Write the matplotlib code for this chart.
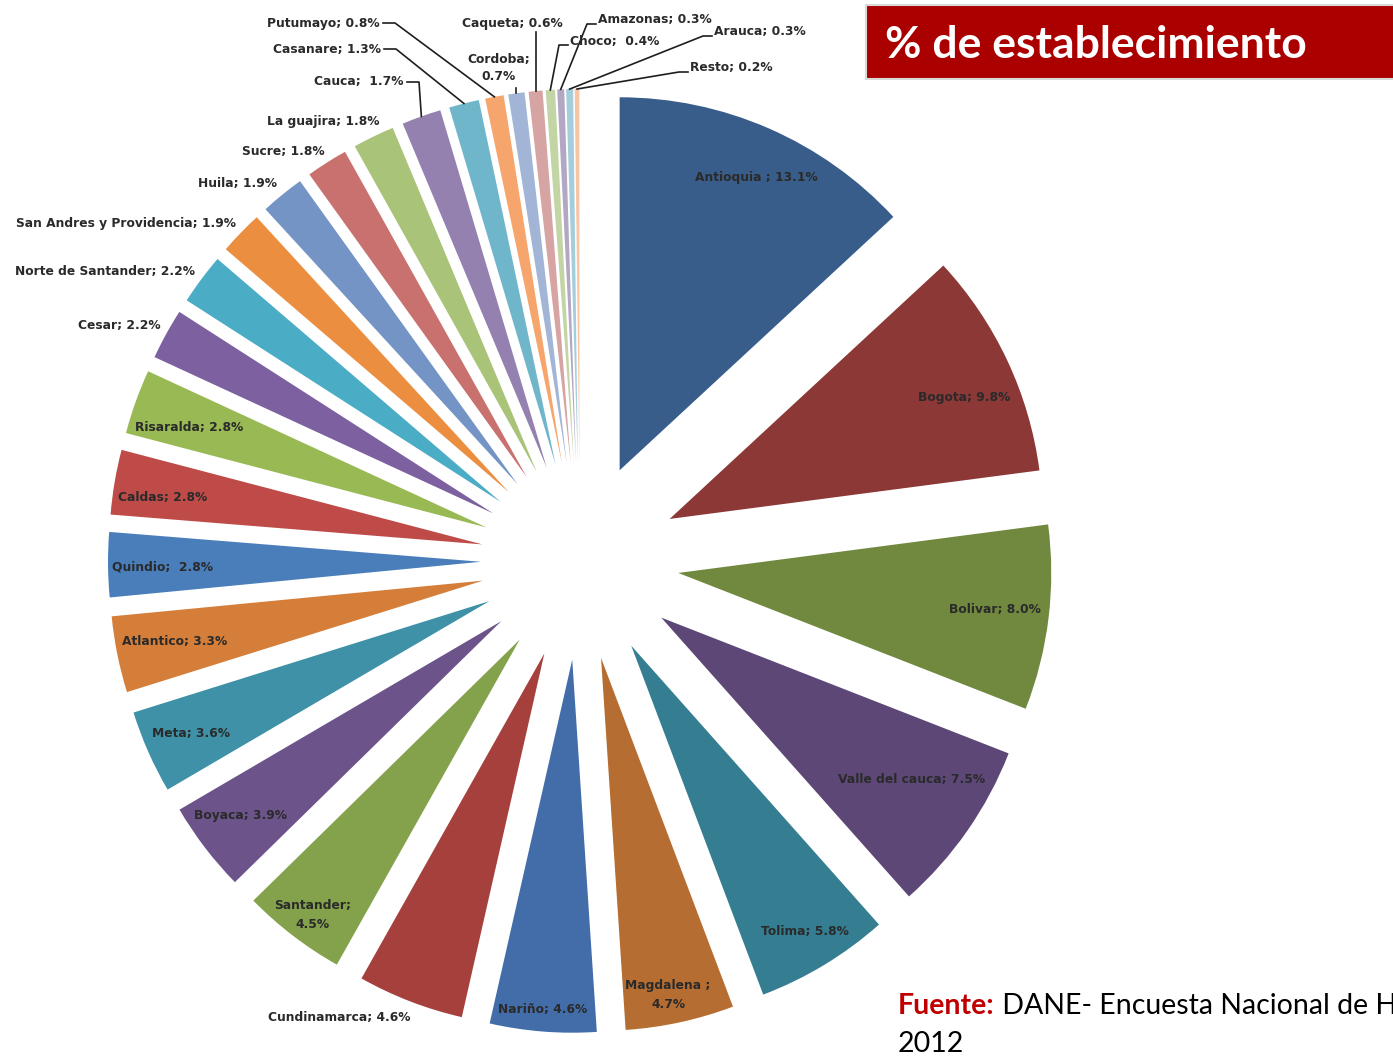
import matplotlib
matplotlib.use('Agg')
import matplotlib.pyplot as plt
import numpy as np
from matplotlib.patches import Rectangle

W, H = 1393, 1056

departamentos = ['Antioquia', 'Bogota', 'Bolivar', 'Valle del cauca', 'Tolima',
                 'Magdalena', 'Nariño', 'Cundinamarca', 'Santander', 'Boyaca',
                 'Meta', 'Atlantico', 'Quindio', 'Caldas', 'Risaralda', 'Cesar',
                 'Norte de Santander', 'San Andres y Providencia', 'Huila', 'Sucre',
                 'La guajira', 'Cauca', 'Casanare', 'Putumayo', 'Cordoba', 'Caqueta',
                 'Choco', 'Amazonas', 'Arauca', 'Resto']
porcentaje = [13.1, 9.8, 8.0, 7.5, 5.8, 4.7, 4.6, 4.6, 4.5, 3.9,
              3.6, 3.3, 2.8, 2.8, 2.8, 2.2, 2.2, 1.9, 1.9, 1.8,
              1.8, 1.7, 1.3, 0.8, 0.7, 0.6, 0.4, 0.3, 0.3, 0.2]
colores = ['#385d8a', '#8c3836', '#71893f', '#5c4776', '#357d91', '#b66d31',
           '#426da9', '#a5403d', '#84a24b', '#6c548a', '#3e91a7', '#d47e3a',
           '#4a7ebb', '#be4b48', '#98b954', '#7d60a0', '#4bacc6', '#eb8e40',
           '#7394c5', '#c9716e', '#a9c479', '#9581b0', '#70b6cb', '#f6a56c',
           '#a3b5d6', '#d6a4a3', '#c3d5a5', '#b3a8c4', '#a4cedb', '#f8c4a4']

# separator between name and value where it is not the usual "; "
separador = {'Antioquia': ' ; ', 'Magdalena': ' ;\n', 'Santander': ';\n',
             'Cordoba': ';\n', 'Quindio': ';  ', 'Cauca': ';  ', 'Choco': ';  '}

# label placement in pixels (x, y from top)
pos_dentro = {
    'Antioquia': (756, 177), 'Bogota': (964, 397), 'Bolivar': (995, 609),
    'Valle del cauca': (912, 780), 'Tolima': (805, 931), 'Magdalena': (668, 995),
    'Nariño': (543, 1010), 'Cundinamarca': (339, 1018), 'Santander': (313, 915),
    'Boyaca': (241, 816), 'Meta': (191, 733), 'Atlantico': (175, 641),
    'Quindio': (163, 567), 'Caldas': (163, 497), 'Risaralda': (189, 428),
    'Cesar': (119, 326), 'Norte de Santander': (105, 271),
    'San Andres y Providencia': (126, 224), 'Huila': (237, 184),
    'Sucre': (283, 152), 'La guajira': (323, 122),
}
# outside labels with a leader: (x, y, ha, y of the leader's first segment)
pos_guia = {
    'Cauca': (404, 82, 'right', 82), 'Casanare': (381, 49, 'right', 49),
    'Putumayo': (380, 23, 'right', 23), 'Cordoba': (499, 68, 'center', 88),
    'Caqueta': (512, 23, 'center', 32), 'Choco': (570, 41, 'left', 45),
    'Amazonas': (598, 19, 'left', 24), 'Arauca': (714, 32, 'left', 36),
    'Resto': (690, 68, 'left', 72),
}


def px(x, y):
    return x, H - y


fig = plt.figure(figsize=(W / 100, H / 100), dpi=100)
ax = fig.add_axes([0, 0, 1, 1])

centro = px(580, 561)
radio = 373
wedges, _ = ax.pie(porcentaje, colors=colores, startangle=90, counterclock=False,
                   center=centro, radius=radio, explode=[99] * len(porcentaje),
                   wedgeprops=dict(linewidth=0))
ax.set_xlim(0, W)
ax.set_ylim(0, H)
ax.set_aspect('equal')
ax.axis('off')

fuente_lbl = dict(family='DejaVu Sans', fontsize=8.8, fontweight='bold',
                  color='#2a2a2a')

for nombre, valor, w in zip(departamentos, porcentaje, wedges):
    texto = nombre + separador.get(nombre, '; ') + f'{valor:.1f}%'
    if nombre in pos_dentro:
        x, y = pos_dentro[nombre]
        ax.text(*px(x, y), texto, ha='center', va='center',
                linespacing=1.5, **fuente_lbl)
    else:
        x, y, ha, ey = pos_guia[nombre]
        ax.text(*px(x, y), texto, ha=ha, va='center', linespacing=1.5, **fuente_lbl)
        tm = np.deg2rad((w.theta1 + w.theta2) / 2)
        wx = w.center[0] + w.r * np.cos(tm)
        wy = w.center[1] + w.r * np.sin(tm)
        if ha == 'right':
            pts = [px(x + 3, ey), px(x + 15, ey)]
        elif ha == 'left':
            pts = [px(x - 2, ey), px(x - 11, ey)]
        else:
            pts = [(wx, H - ey)]
        pts.append((wx, wy))
        xs, ys = zip(*pts)
        ax.plot(xs, ys, color='#1e1e1e', lw=1.2)

# title box
ax.add_patch(Rectangle(px(866, 79), 540, 74, facecolor='#aa0000',
                       edgecolor='#d9d9d9', lw=1.5, clip_on=False))
ax.text(*px(885, 45), '% de establecimiento', ha='left', va='center',
        family='Lato', fontweight='bold', fontsize=32, color='white')

# source note
t1 = ax.text(*px(898, 1006), 'Fuente:', ha='left', va='center',
             family='Lato', fontweight='bold', fontsize=20.5, color='#c00000')
ax.annotate(' DANE- Encuesta Nacional de Hoteles', xy=(1, 0.5), xycoords=t1,
            ha='left', va='center', family='Lato', fontsize=20.5, color='black')
ax.text(*px(898, 1044), '2012', ha='left', va='center',
        family='Lato', fontsize=20.5, color='black')

fig.savefig('out.png', dpi=100)
